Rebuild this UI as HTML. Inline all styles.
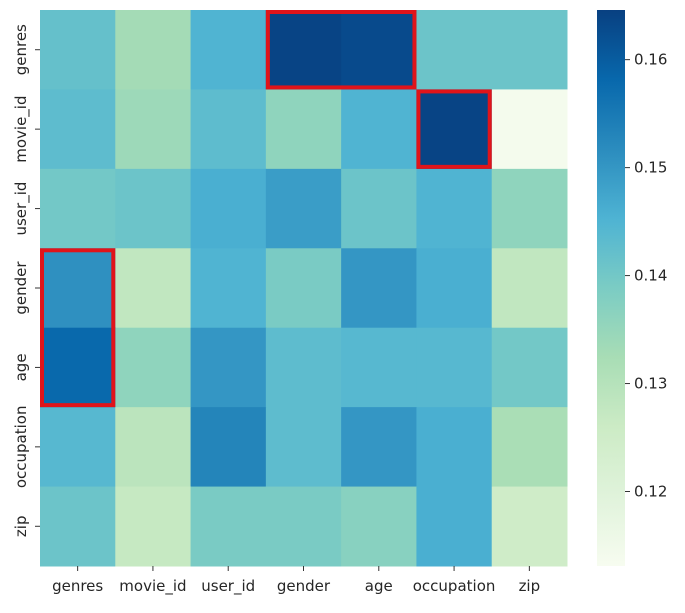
<!DOCTYPE html>
<html><head><meta charset="utf-8"><style>
body{margin:0;background:#fff;width:685px;height:608px;overflow:hidden}
text{font-family:"DejaVu Sans","Liberation Sans",sans-serif;fill:#262626}
</style></head><body>
<svg id="chart" width="685" height="608" xmlns="http://www.w3.org/2000/svg">
<defs><linearGradient id="cbg" x1="0" y1="1" x2="0" y2="0">
<stop offset="0" stop-color="#f7fcf0"/><stop offset="0.125" stop-color="#e0f3db"/><stop offset="0.25" stop-color="#ccebc5"/><stop offset="0.375" stop-color="#a8ddb5"/><stop offset="0.5" stop-color="#7bccc4"/><stop offset="0.625" stop-color="#4eb3d3"/><stop offset="0.75" stop-color="#2b8cbe"/><stop offset="0.875" stop-color="#0868ac"/><stop offset="1" stop-color="#084081"/></linearGradient></defs>
<g id="cells"></g><g id="hl"></g><g id="axes"></g>
<rect x="597" y="10" width="28" height="556" fill="url(#cbg)"/>
<g id="cbticks"></g>
</svg>
<script>
const labels=["genres","movie_id","user_id","gender","age","occupation","zip"];
const rowGenres=[0.142,0.133,0.145,0.164,0.163,0.141,0.141];
const rowMovie=[0.143,0.134,0.143,0.136,0.145,0.164,0.114];
const rowUser=[0.140,0.141,0.146,0.149,0.141,0.145,0.136];
const rowGender=[0.151,0.128,0.145,0.139,0.150,0.146,0.128];
const rowAge=[0.158,0.136,0.150,0.143,0.144,0.144,0.140];
const rowOcc=[0.144,0.129,0.153,0.143,0.150,0.146,0.132];
const rowZip=[0.141,0.127,0.139,0.139,0.137,0.146,0.125];
const cbTicks=[0.12,0.13,0.14,0.15,0.16];
const highlights=[[0,3,2,1],[1,5,1,1],[3,0,1,2]];
const vmin=0.1131,vmax=0.1646;
const rows=[rowGenres,rowMovie,rowUser,rowGender,rowAge,rowOcc,rowZip];
const X0=40,X1=567,Y0=10,Y1=566,n=labels.length,cw=(X1-X0)/n,ch=(Y1-Y0)/n;
const stops=["#f7fcf0","#e0f3db","#ccebc5","#a8ddb5","#7bccc4","#4eb3d3","#2b8cbe","#0868ac","#084081"];
function hex(h){return[1,3,5].map(i=>parseInt(h.substr(i,2),16));}
function color(v){let t=Math.max(0,Math.min(1,(v-vmin)/(vmax-vmin)))*(stops.length-1);let i=Math.min(Math.floor(t),stops.length-2),f=t-i;const a=hex(stops[i]),b=hex(stops[i+1]);return"rgb("+a.map((c,k)=>Math.round(c+(b[k]-c)*f)).join(",")+")";}
function cbY(v){return Y1-(v-vmin)/(vmax-vmin)*(Y1-Y0);}
const NS="http://www.w3.org/2000/svg";
function mk(tag,attrs,parent){const e=document.createElementNS(NS,tag);for(const k in attrs)e.setAttribute(k,attrs[k]);parent.appendChild(e);return e;}
const cells=document.getElementById("cells"),axes=document.getElementById("axes"),hl=document.getElementById("hl"),cb=document.getElementById("cbticks");
rows.forEach((r,i)=>r.forEach((v,j)=>{const e=mk("rect",{x:X0+j*cw,y:Y0+i*ch,width:cw+0.5,height:ch+0.5,fill:color(v)},cells);

}));
labels.forEach((l,i)=>{
const cx=X0+(i+0.5)*cw,cy=Y0+(i+0.5)*ch;
mk("line",{x1:cx,x2:cx,y1:Y1,y2:Y1+5,stroke:"#333"},axes);
const t=mk("text",{x:cx,y:Y1+25,"text-anchor":"middle","font-size":"15"},axes);t.textContent=l;


mk("line",{x1:X0-5,x2:X0,y1:cy,y2:cy,stroke:"#333"},axes);
const u=mk("text",{x:0,y:0,"text-anchor":"middle","font-size":"15",transform:`translate(${X0-14},${cy}) rotate(-90)`},axes);u.textContent=l;

});
highlights.forEach(h=>{const e=mk("rect",{x:X0+h[1]*cw+2,y:Y0+h[0]*ch+2,width:h[2]*cw-4,height:h[3]*ch-4,fill:"none",stroke:"#e0141a","stroke-width":4},hl);

});
cbTicks.forEach(v=>{const y=cbY(v);mk("line",{x1:625,x2:630,y1:y,y2:y,stroke:"#333"},cb);
const t=mk("text",{x:634,y:y+5,"font-size":"15"},cb);t.textContent=v.toFixed(2);

});
</script>
</body></html>
